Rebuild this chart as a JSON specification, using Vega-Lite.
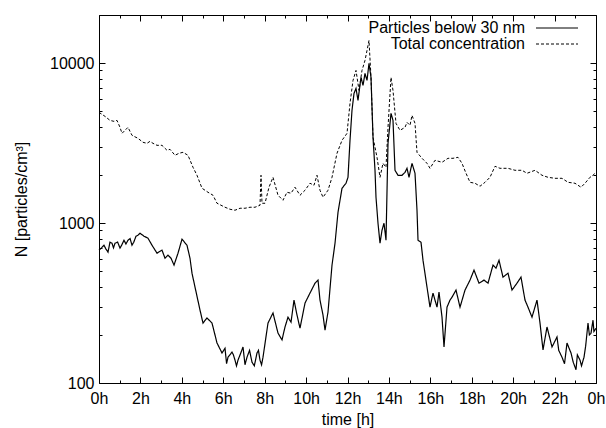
{
  "$schema": "https://vega.github.io/schema/vega-lite/v6.json",
  "width": 497,
  "height": 368,
  "autosize": {"type": "none"},
  "padding": {"left": 99, "top": 15, "right": 10, "bottom": 45},
  "background": "white",
  "config": {
    "font": "Liberation Sans",
    "view": {"stroke": "black", "strokeWidth": 1},
    "axis": {
      "domain": false,
      "grid": false,
      "tickColor": "black",
      "tickWidth": 1,
      "labelColor": "black",
      "labelFont": "Liberation Sans",
      "labelFontSize": 16,
      "labelFlush": false,
      "labelOverlap": false,
      "titleColor": "black",
      "titleFont": "Liberation Sans",
      "titleFontSize": 16,
      "titleFontWeight": "normal"
    },
    "legend": {
      "title": null,
      "orient": "none",
      "legendX": 450,
      "legendY": 5,
      "symbolType": "M-3,0H3",
      "symbolSize": 196,
      "symbolStrokeWidth": 1,
      "symbolStrokeColor": "black",
      "labelAlign": "right",
      "labelOffset": -40,
      "labelFont": "Liberation Sans",
      "labelFontSize": 16,
      "labelColor": "black",
      "labelLimit": 300,
      "rowPadding": 0
    }
  },
  "datasets": {
    "below30": [
      {"h":0,"n":677},{"h":0.12,"n":700},{"h":0.241,"n":727},{"h":0.33,"n":690},{"h":0.435,"n":658},{"h":0.53,"n":760},{"h":0.628,"n":748},{"h":0.7,"n":700},{"h":0.773,"n":748},{"h":0.9,"n":760},{"h":1.014,"n":697},{"h":1.1,"n":730},{"h":1.207,"n":781},{"h":1.3,"n":740},{"h":1.4,"n":781},{"h":1.5,"n":800},{"h":1.594,"n":727},{"h":1.68,"n":760},{"h":1.787,"n":828},{"h":1.88,"n":840},{"h":1.98,"n":864},{"h":2.173,"n":828},{"h":2.366,"n":804},{"h":2.559,"n":727},{"h":2.801,"n":648},{"h":3.042,"n":677},{"h":3.187,"n":603},{"h":3.332,"n":630},{"h":3.477,"n":603},{"h":3.622,"n":546},{"h":3.815,"n":648},{"h":4.008,"n":793},{"h":4.249,"n":727},{"h":4.394,"n":603},{"h":4.491,"n":486},{"h":4.636,"n":398},{"h":4.877,"n":286},{"h":5.022,"n":237},{"h":5.215,"n":255},{"h":5.457,"n":237},{"h":5.698,"n":178},{"h":5.94,"n":154},{"h":6.085,"n":165},{"h":6.16,"n":132},{"h":6.229,"n":145},{"h":6.423,"n":156},{"h":6.49,"n":150},{"h":6.567,"n":139},{"h":6.64,"n":128},{"h":6.712,"n":139},{"h":6.83,"n":152},{"h":6.954,"n":168},{"h":7.05,"n":130},{"h":7.147,"n":145},{"h":7.27,"n":160},{"h":7.388,"n":135},{"h":7.5,"n":128},{"h":7.63,"n":154},{"h":7.7,"n":160},{"h":7.775,"n":139},{"h":7.85,"n":130},{"h":7.92,"n":145},{"h":8.161,"n":237},{"h":8.402,"n":274},{"h":8.644,"n":205},{"h":8.837,"n":186},{"h":8.982,"n":224},{"h":9.127,"n":258},{"h":9.272,"n":240},{"h":9.417,"n":330},{"h":9.562,"n":266},{"h":9.706,"n":220},{"h":9.948,"n":316},{"h":10.189,"n":365},{"h":10.431,"n":421},{"h":10.576,"n":440},{"h":10.672,"n":330},{"h":10.817,"n":266},{"h":10.914,"n":214},{"h":11.059,"n":278},{"h":11.252,"n":546},{"h":11.397,"n":748},{"h":11.542,"n":1169},{"h":11.735,"n":1651},{"h":11.928,"n":1774},{"h":12.024,"n":1933},{"h":12.121,"n":3291},{"h":12.217,"n":5066},{"h":12.314,"n":6469},{"h":12.411,"n":6950},{"h":12.507,"n":5849},{"h":12.652,"n":8142},{"h":12.749,"n":7260},{"h":12.845,"n":8624},{"h":12.942,"n":7798},{"h":13.038,"n":9960},{"h":13.135,"n":8142},{"h":13.232,"n":3437},{"h":13.328,"n":2138},{"h":13.376,"n":1450},{"h":13.473,"n":998},{"h":13.57,"n":748},{"h":13.666,"n":902},{"h":13.763,"n":998},{"h":13.859,"n":781},{"h":13.956,"n":3152},{"h":14.101,"n":4852},{"h":14.197,"n":4387},{"h":14.294,"n":2138},{"h":14.439,"n":1990},{"h":14.632,"n":1990},{"h":14.777,"n":2077},{"h":14.873,"n":2200},{"h":14.97,"n":1933},{"h":15.115,"n":2364},{"h":15.26,"n":2048},{"h":15.356,"n":1203},{"h":15.405,"n":781},{"h":15.549,"n":759},{"h":15.646,"n":586},{"h":15.839,"n":398},{"h":15.984,"n":298},{"h":16.129,"n":365},{"h":16.322,"n":298},{"h":16.419,"n":370},{"h":16.564,"n":258},{"h":16.66,"n":168},{"h":16.805,"n":298},{"h":16.95,"n":330},{"h":17.047,"n":344},{"h":17.24,"n":381},{"h":17.433,"n":298},{"h":17.675,"n":381},{"h":17.916,"n":440},{"h":18.109,"n":508},{"h":18.35,"n":421},{"h":18.592,"n":440},{"h":18.785,"n":421},{"h":19.026,"n":546},{"h":19.171,"n":522},{"h":19.316,"n":586},{"h":19.509,"n":459},{"h":19.751,"n":486},{"h":19.944,"n":381},{"h":20.185,"n":421},{"h":20.378,"n":459},{"h":20.571,"n":330},{"h":20.716,"n":298},{"h":20.909,"n":258},{"h":21.151,"n":330},{"h":21.296,"n":237},{"h":21.441,"n":161},{"h":21.634,"n":224},{"h":21.876,"n":168},{"h":22.117,"n":194},{"h":22.2,"n":160},{"h":22.358,"n":145},{"h":22.48,"n":132},{"h":22.6,"n":178},{"h":22.7,"n":165},{"h":22.793,"n":154},{"h":22.9,"n":135},{"h":23.034,"n":121},{"h":23.1,"n":150},{"h":23.228,"n":139},{"h":23.3,"n":128},{"h":23.421,"n":145},{"h":23.5,"n":170},{"h":23.614,"n":237},{"h":23.68,"n":200},{"h":23.759,"n":205},{"h":23.855,"n":247},{"h":23.9,"n":210},{"h":24,"n":220}
    ],
    "total": [
      {"h":0,"n":4922},{"h":0.29,"n":4648},{"h":0.531,"n":4387},{"h":0.724,"n":4325},{"h":0.869,"n":4387},{"h":1.014,"n":3968},{"h":1.111,"n":3639},{"h":1.256,"n":3801},{"h":1.4,"n":3968},{"h":1.594,"n":3537},{"h":1.883,"n":3388},{"h":2.125,"n":3198},{"h":2.318,"n":3152},{"h":2.463,"n":3244},{"h":2.608,"n":3152},{"h":2.801,"n":3063},{"h":3.042,"n":3063},{"h":3.284,"n":2851},{"h":3.429,"n":2892},{"h":3.67,"n":2653},{"h":3.863,"n":2731},{"h":4.056,"n":2770},{"h":4.298,"n":2653},{"h":4.539,"n":2233},{"h":4.732,"n":1990},{"h":4.974,"n":1651},{"h":5.119,"n":1604},{"h":5.264,"n":1558},{"h":5.505,"n":1493},{"h":5.698,"n":1330},{"h":5.891,"n":1293},{"h":6.085,"n":1256},{"h":6.326,"n":1220},{"h":6.567,"n":1203},{"h":6.809,"n":1238},{"h":7.05,"n":1238},{"h":7.292,"n":1256},{"h":7.533,"n":1256},{"h":7.775,"n":1293},{"h":7.823,"n":1990},{"h":7.871,"n":1330},{"h":8.016,"n":1330},{"h":8.209,"n":1675},{"h":8.402,"n":1933},{"h":8.644,"n":1493},{"h":8.885,"n":1389},{"h":9.078,"n":1558},{"h":9.272,"n":1537},{"h":9.465,"n":1675},{"h":9.706,"n":1493},{"h":9.948,"n":1604},{"h":10.189,"n":1774},{"h":10.382,"n":1723},{"h":10.527,"n":1990},{"h":10.672,"n":1604},{"h":10.817,"n":1450},{"h":11.059,"n":1604},{"h":11.252,"n":1933},{"h":11.493,"n":2731},{"h":11.735,"n":3291},{"h":11.976,"n":3639},{"h":12.121,"n":5602},{"h":12.266,"n":7798},{"h":12.411,"n":9003},{"h":12.556,"n":6753},{"h":12.7,"n":9003},{"h":12.845,"n":10400},{"h":12.942,"n":12000},{"h":13.038,"n":13860},{"h":13.135,"n":8142},{"h":13.232,"n":3437},{"h":13.425,"n":2577},{"h":13.57,"n":1933},{"h":13.714,"n":2364},{"h":13.859,"n":2233},{"h":13.956,"n":3968},{"h":14.101,"n":8142},{"h":14.197,"n":6753},{"h":14.342,"n":4203},{"h":14.535,"n":3801},{"h":14.777,"n":3968},{"h":14.873,"n":4264},{"h":15.018,"n":4083},{"h":15.115,"n":4715},{"h":15.26,"n":4203},{"h":15.356,"n":2770},{"h":15.598,"n":2541},{"h":15.839,"n":2364},{"h":15.984,"n":2200},{"h":16.225,"n":2469},{"h":16.564,"n":2399},{"h":16.853,"n":2541},{"h":17.095,"n":2541},{"h":17.336,"n":2577},{"h":17.529,"n":2364},{"h":17.723,"n":2048},{"h":17.916,"n":1799},{"h":18.157,"n":1774},{"h":18.398,"n":1699},{"h":18.64,"n":1799},{"h":18.881,"n":1933},{"h":19.123,"n":2265},{"h":19.364,"n":2200},{"h":19.751,"n":2200},{"h":20.089,"n":2138},{"h":20.427,"n":2138},{"h":20.668,"n":2048},{"h":21.055,"n":2138},{"h":21.393,"n":1990},{"h":21.683,"n":1933},{"h":22.021,"n":1905},{"h":22.358,"n":1905},{"h":22.648,"n":1799},{"h":22.986,"n":1774},{"h":23.276,"n":1675},{"h":23.469,"n":1774},{"h":23.71,"n":1933},{"h":23.855,"n":1990},{"h":24,"n":2077}
    ]
  },
  "layer": [
    {
      "data": {"name": "below30"},
      "mark": {"type": "line", "color": "black", "strokeWidth": 1.2},
      "encoding": {
        "x": {
          "field": "h", "type": "quantitative",
          "scale": {"domain": [0, 24], "nice": false, "zero": false},
          "axis": {
            "orient": "bottom", "title": "time [h]",
            "values": [0, 2, 4, 6, 8, 10, 12, 14, 16, 18, 20, 22, 24],
            "labelExpr": "datum.value == 24 ? '0h' : datum.value + 'h'",
            "tickSize": -6, "labelPadding": 13, "titlePadding": 5
          }
        },
        "y": {
          "field": "n", "type": "quantitative",
          "scale": {"type": "log", "domain": [100, 20000], "nice": false},
          "axis": {
            "orient": "left", "title": "N [particles/cm³]",
            "values": [100, 1000, 10000], "format": "d",
            "tickSize": -6, "labelPadding": 11, "titlePadding": 20
          }
        },
        "strokeDash": {
          "datum": "Particles below 30 nm",
          "scale": {"domain": ["Particles below 30 nm", "Total concentration"], "range": [[1, 0], [3, 2]]}
        }
      }
    },
    {
      "data": {"name": "total"},
      "mark": {"type": "line", "color": "black", "strokeWidth": 1},
      "encoding": {
        "x": {"field": "h", "type": "quantitative", "axis": null},
        "y": {"field": "n", "type": "quantitative", "axis": null},
        "strokeDash": {"datum": "Total concentration"}
      }
    },
    {
      "data": {"name": "total"},
      "mark": {"type": "line", "opacity": 0},
      "encoding": {
        "x": {"field": "h", "type": "quantitative",
          "axis": {"orient": "top", "title": null, "labels": false, "tickSize": -6,
            "values": [0, 2, 4, 6, 8, 10, 12, 14, 16, 18, 20, 22, 24]}},
        "y": {"field": "n", "type": "quantitative",
          "axis": {"orient": "right", "title": null, "labels": false, "tickSize": -6,
            "values": [100, 1000, 10000]}}
      }
    },
    {
      "data": {"name": "total"},
      "mark": {"type": "line", "opacity": 0},
      "encoding": {
        "x": {"field": "h", "type": "quantitative",
          "axis": {"orient": "bottom", "title": null, "labels": false, "tickSize": -3,
            "values": [1, 3, 5, 7, 9, 11, 13, 15, 17, 19, 21, 23]}},
        "y": {"field": "n", "type": "quantitative",
          "axis": {"orient": "left", "title": null, "labels": false, "tickSize": -3,
            "values": [200, 300, 400, 500, 600, 700, 800, 900, 2000, 3000, 4000, 5000, 6000, 7000, 8000, 9000, 20000]}}
      }
    },
    {
      "data": {"name": "total"},
      "mark": {"type": "line", "opacity": 0},
      "encoding": {
        "x": {"field": "h", "type": "quantitative",
          "axis": {"orient": "top", "title": null, "labels": false, "tickSize": -3,
            "values": [1, 3, 5, 7, 9, 11, 13, 15, 17, 19, 21, 23]}},
        "y": {"field": "n", "type": "quantitative",
          "axis": {"orient": "right", "title": null, "labels": false, "tickSize": -3,
            "values": [200, 300, 400, 500, 600, 700, 800, 900, 2000, 3000, 4000, 5000, 6000, 7000, 8000, 9000, 20000]}}
      }
    }
  ],
  "resolve": {"axis": {"x": "independent", "y": "independent"}}
}
